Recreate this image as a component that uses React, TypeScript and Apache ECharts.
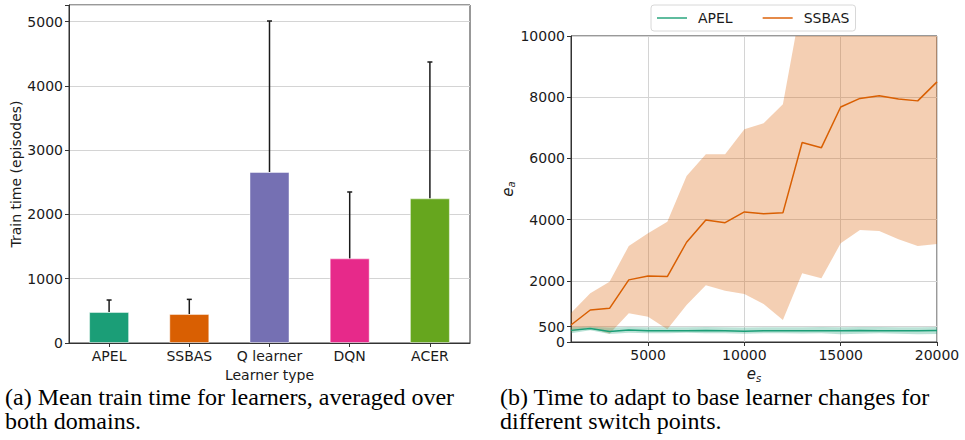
import React, { useEffect, useRef } from 'react';
import * as echarts from 'echarts';

// ---------- Left chart data ----------
const learners = ['APEL', 'SSBAS', 'Q learner', 'DQN', 'ACER'];
const trainMean = [482, 451, 2661, 1317, 2251];
const trainErrTop = [669, 679, 5011, 2350, 4373];
const barColors = ['#1b9e77', '#d95f02', '#7570b3', '#e7298a', '#66a61e'];

// ---------- Right chart data ----------
const switchPoints = [1000, 2000, 3000, 4000, 5000, 6000, 7000, 8000, 9000, 10000, 11000, 12000, 13000, 14000, 15000, 16000, 17000, 18000, 19000, 20000];
const ssbasMean = [555, 1046, 1100, 2030, 2160, 2140, 3260, 3990, 3900, 4250, 4190, 4220, 6520, 6350, 7680, 7960, 8050, 7940, 7880, 8500];
const ssbasLower = [337, 468, 270, 937, 828, 414, 1209, 1852, 1678, 1569, 1242, 719, 2244, 2081, 3224, 3660, 3627, 3355, 3137, 3203];
const ssbasUpper = [946, 1590, 1972, 3137, 3551, 3932, 5425, 6133, 6133, 6950, 7146, 7767, 11200, 10700, 12100, 12300, 12500, 12500, 12600, 13800];
const apelMean = [380, 440, 340, 390, 370, 370, 370, 375, 370, 350, 365, 370, 365, 370, 370, 375, 370, 370, 365, 375];
const apelLower = [290, 380, 260, 300, 290, 290, 300, 290, 290, 270, 290, 290, 280, 290, 250, 270, 290, 270, 250, 260];
const apelUpper = [480, 500, 470, 490, 480, 480, 480, 490, 480, 470, 480, 480, 480, 490, 480, 490, 490, 480, 480, 490];
const rightYTicks = [0, 500, 2000, 4000, 6000, 8000, 10000];
const rightXTicks = [5000, 10000, 15000, 20000];

const captionA = '(a) Mean train time for learners, averaged over\nboth domains.';
const captionB = '(b) Time to adapt to base learner changes for\ndifferent switch points.';

const TXT = '#1a1a1a';
const GRIDC = '#d4d4d4';
const FONT = 'DejaVu Sans';

export default function App() {
  const ref = useRef<HTMLDivElement>(null);
  useEffect(() => {
    if (!ref.current) return;
    const chart = echarts.init(ref.current, null, { renderer: 'svg' });
    const pair = (arr: number[]) => switchPoints.map((x, i) => [x, arr[i]]);
    const band = (lo: number[], up: number[], color: string) => ({
      type: 'custom',
      xAxisIndex: 1,
      yAxisIndex: 1,
      z: 1,
      silent: true,
      data: switchPoints.map((x, i) => [x, lo[i], up[i]]),
      renderItem: (params: any, api: any) => {
        if (params.dataIndex !== 0) return null;
        const pts: number[][] = [];
        switchPoints.forEach((x, i) => pts.push(api.coord([x, up[i]])));
        for (let i = switchPoints.length - 1; i >= 0; i--) pts.push(api.coord([switchPoints[i], lo[i]]));
        const cs = params.coordSys;
        return {
          type: 'polygon',
          shape: { points: pts },
          style: { fill: color },
          clipPath: { type: 'rect', shape: { x: cs.x, y: cs.y, width: cs.width, height: cs.height } },
        };
      },
    });
    const richName = () => ({
      color: TXT,
      rich: {
        e: { fontStyle: 'italic', fontSize: 15, fontFamily: FONT, color: TXT },
        s: { fontStyle: 'italic', fontSize: 10, fontFamily: FONT, color: TXT, padding: [8, 0, 0, 0] },
      },
    });
    const option: any = {
      animation: false,
      backgroundColor: '#fff',
      textStyle: { fontFamily: FONT },
      grid: [
        { left: 69, top: 5, width: 401, height: 338, show: true, borderColor: '#333', borderWidth: 1, backgroundColor: 'transparent' },
        { left: 571, top: 36, width: 366, height: 306, show: true, borderColor: '#333', borderWidth: 1, backgroundColor: 'transparent' },
      ],
      legend: {
        data: [
          { name: 'APEL', itemStyle: { color: '#5fbc9e' } },
          { name: 'SSBAS', itemStyle: { color: '#e58a48' } },
        ],
        icon: 'rect',
        left: 651,
        top: 5,
        padding: [5, 6, 5, 6],
        itemWidth: 30,
        itemHeight: 2,
        itemGap: 30,
        borderColor: '#d8d8d8',
        borderWidth: 1,
        borderRadius: 3,
        textStyle: { fontFamily: FONT, fontSize: 14, color: TXT, padding: [0, 0, 0, 6], lineHeight: 16 },
      },
      xAxis: [
        {
          type: 'category',
          gridIndex: 0,
          data: learners,
          boundaryGap: true,
          axisLine: { show: true, lineStyle: { color: '#333' } },
          axisTick: { show: true, alignWithLabel: true, length: 4, lineStyle: { color: '#333' } },
          axisLabel: { color: TXT, fontSize: 14, margin: 6, fontFamily: FONT, interval: 0 },
          name: 'Learner type',
          nameLocation: 'middle',
          nameGap: 22,
          nameTextStyle: { color: TXT, fontSize: 14, fontFamily: FONT },
          splitLine: { show: false },
        },
        {
          type: 'value',
          gridIndex: 1,
          min: 1000,
          max: 20000,
          axisLine: { show: true, lineStyle: { color: '#333' } },
          axisTick: { show: true, length: 4, lineStyle: { color: '#333' }, customValues: rightXTicks },
          axisLabel: { color: TXT, fontSize: 14, margin: 6, fontFamily: FONT, customValues: rightXTicks, formatter: (v: number) => String(v) },
          splitLine: { show: true, lineStyle: { color: GRIDC, width: 1 } },
          name: '{e|e}{s|s}',
          nameLocation: 'middle',
          nameGap: 20,
          nameTextStyle: richName(),
        },
      ],
      yAxis: [
        {
          type: 'value',
          gridIndex: 0,
          min: 0,
          max: 5260,
          interval: 1000,
          axisLine: { show: true, lineStyle: { color: '#333' } },
          axisTick: { show: true, length: 4, lineStyle: { color: '#333' } },
          axisLabel: {
            color: TXT, fontSize: 14, margin: 6, fontFamily: FONT,
            formatter: (v: number) => (v % 1000 === 0 ? String(v) : ''),
          },
          splitLine: { show: true, lineStyle: { color: GRIDC, width: 1 } },
          name: 'Train time (episodes)',
          nameLocation: 'middle',
          nameGap: 46,
          nameTextStyle: { color: TXT, fontSize: 14, fontFamily: FONT },
        },
        {
          type: 'value',
          gridIndex: 1,
          min: 0,
          max: 10000,
          axisLine: { show: true, lineStyle: { color: '#333' } },
          axisTick: { show: true, length: 4, lineStyle: { color: '#333' }, customValues: rightYTicks },
          axisLabel: { color: TXT, fontSize: 14, margin: 6, fontFamily: FONT, customValues: rightYTicks, formatter: (v: number) => String(v) },
          splitLine: { show: true, lineStyle: { color: GRIDC, width: 1 } },
          name: '{e|e}{s|a}',
          nameLocation: 'middle',
          nameGap: 52,
          nameTextStyle: richName(),
        },
      ],
      graphic: [
        { type: 'text', left: 5, top: 385, style: { text: captionA, font: '24px "Liberation Serif"', lineHeight: 24, fill: '#000' } },
        { type: 'text', left: 500, top: 385, style: { text: captionB, font: '24px "Liberation Serif"', lineHeight: 24, fill: '#000' } },
      ],
      series: [
        {
          type: 'bar',
          xAxisIndex: 0,
          yAxisIndex: 0,
          barWidth: 40,
          data: trainMean.map((v, i) => ({ value: v, itemStyle: { color: barColors[i], borderColor: 'rgba(255,255,255,0.45)', borderWidth: 1 } })),
          z: 2,
        },
        {
          type: 'custom',
          xAxisIndex: 0,
          yAxisIndex: 0,
          z: 4,
          data: learners.map((_, i) => [i, trainMean[i], trainErrTop[i]]),
          renderItem: (params: any, api: any) => {
            const p0 = api.coord([api.value(0), api.value(1)]);
            const p1 = api.coord([api.value(0), api.value(2)]);
            return {
              type: 'group',
              children: [
                { type: 'line', shape: { x1: p0[0], y1: p0[1], x2: p1[0], y2: p1[1] }, style: { stroke: '#1a1a1a', lineWidth: 1.5 } },
                { type: 'line', shape: { x1: p1[0] - 2.5, y1: p1[1], x2: p1[0] + 2.5, y2: p1[1] }, style: { stroke: '#1a1a1a', lineWidth: 1.5 } },
              ],
            };
          },
        },
        band(ssbasLower, ssbasUpper, 'rgba(217,95,2,0.3)'),
        band(apelLower, apelUpper, 'rgba(27,158,119,0.3)'),
        {
          name: 'APEL', type: 'line', xAxisIndex: 1, yAxisIndex: 1, symbol: 'none',
          data: pair(apelMean), lineStyle: { color: '#1b9e77', width: 1.5 }, itemStyle: { color: '#1b9e77' }, z: 3,
        },
        {
          name: 'SSBAS', type: 'line', xAxisIndex: 1, yAxisIndex: 1, symbol: 'none',
          data: pair(ssbasMean), lineStyle: { color: '#d95f02', width: 1.5 }, itemStyle: { color: '#d95f02' }, z: 3,
        },
      ],
    };
    chart.setOption(option);
    return () => chart.dispose();
  }, []);
  return <div ref={ref} style={{ position: 'absolute', left: 0, top: 0, width: 965, height: 440 }} />;
}
